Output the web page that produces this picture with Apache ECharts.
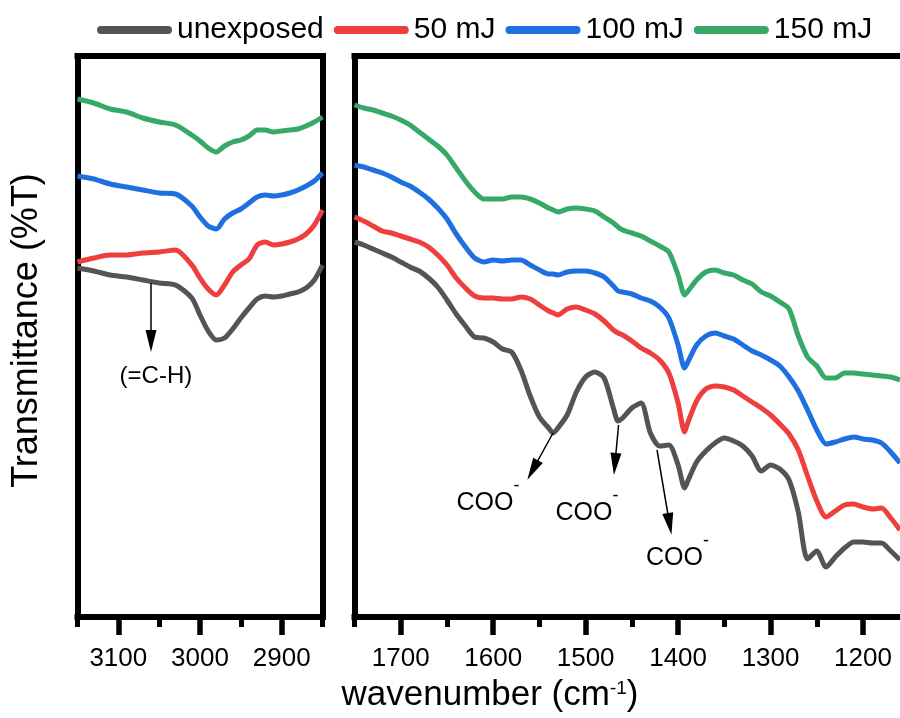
<!DOCTYPE html>
<html>
<head>
<meta charset="utf-8">
<title>FTIR spectra</title>
<script src="https://cdn.jsdelivr.net/npm/echarts@6/dist/echarts.min.js"></script>
<style>
  html, body { margin: 0; padding: 0; background: #fff; }
  #chart { width: 900px; height: 718px; }
</style>
</head>
<body>
<div id="chart"></div>
<script>
// left panel: 3150 - 2850 cm-1
const highWavenumber = [3150, 3130, 3110, 3090, 3070, 3050, 3030, 3010, 3000, 2990, 2980, 2970,
  2960, 2950, 2940, 2930, 2920, 2910, 2900, 2890, 2880, 2870, 2860, 2850]
const highUnexposed = [34.9, 34.6, 34.2, 34.0, 33.7, 33.4, 33.2, 31.9, 30.2, 28.6, 27.7, 27.9,
  28.8, 29.9, 30.9, 31.8, 32.1, 32.0, 32.1, 32.3, 32.5, 32.9, 33.7, 35.2]
const high50 = [35.5, 35.9, 36.2, 36.2, 36.4, 36.5, 36.7, 35.2, 33.9, 32.8, 32.2, 33.2,
  34.5, 35.2, 35.8, 37.2, 37.5, 37.2, 37.3, 37.5, 37.8, 38.3, 39.2, 40.7]
const high100 = [44.1, 43.8, 43.3, 43.0, 42.7, 42.4, 42.3, 41.1, 40.0, 39.1, 38.8, 39.8,
  40.4, 40.8, 41.4, 42.0, 42.2, 42.1, 42.2, 42.4, 42.7, 43.1, 43.6, 44.4]
const high150 = [51.8, 51.4, 50.8, 50.5, 49.9, 49.5, 49.2, 48.2, 47.6, 46.9, 46.5, 47.1,
  47.5, 47.7, 48.1, 48.7, 48.7, 48.5, 48.6, 48.7, 48.8, 49.1, 49.5, 50.0]

// right panel: 1750 - 1160 cm-1
const lowWavenumber = [1750, 1740, 1730, 1720, 1710, 1700, 1690, 1680, 1670, 1660, 1650, 1640,
  1630, 1620, 1610, 1600, 1590, 1580, 1570, 1560, 1550, 1540, 1535, 1530, 1520, 1510, 1500, 1490,
  1480, 1470, 1465, 1460, 1450, 1440, 1430, 1420, 1410, 1400, 1393, 1390, 1380, 1370, 1360, 1350,
  1340, 1330, 1320, 1310, 1300, 1290, 1280, 1270, 1260, 1250, 1240, 1230, 1220, 1210, 1200, 1190,
  1180, 1170, 1160]
const lowUnexposed = [37.5, 37.2, 36.8, 36.4, 36.0, 35.5, 35.0, 34.6, 33.9, 33.0, 31.7, 30.3,
  29.1, 28.0, 27.9, 27.5, 26.8, 26.5, 24.7, 22.1, 20.0, 18.9, 18.4, 18.9, 20.2, 22.5, 24.0, 24.5,
  23.9, 20.9, 19.6, 19.9, 20.9, 21.4, 18.4, 17.1, 17.2, 15.2, 12.9, 13.5, 15.5, 16.6, 17.4, 17.9,
  17.6, 17.1, 16.1, 14.6, 15.2, 14.8, 13.7, 10.5, 5.8, 6.6, 5.0, 6.0, 6.9, 7.5, 7.5, 7.4,
  7.4, 6.6, 5.7]
const low50 = [40.0, 39.6, 39.1, 38.6, 38.4, 38.1, 37.8, 37.5, 37.0, 36.2, 35.2, 33.9,
  32.9, 32.1, 31.9, 31.9, 31.8, 31.8, 32.0, 31.8, 31.2, 30.6, 30.4, 30.2, 30.8, 31.0, 30.7, 30.3,
  29.6, 28.7, 28.4, 28.2, 27.6, 26.9, 26.4, 25.7, 24.4, 21.4, 18.5, 19.3, 21.6, 22.8, 23.1, 23.0,
  22.7, 22.1, 21.5, 20.9, 20.2, 19.3, 18.3, 16.7, 14.1, 11.6, 10.0, 10.6, 11.2, 11.3, 11.0, 10.8,
  10.9, 9.9, 8.7]
const low100 = [45.2, 45.0, 44.7, 44.4, 44.0, 43.5, 43.1, 42.5, 41.8, 40.9, 39.8, 38.3,
  37.0, 35.9, 35.5, 35.7, 35.6, 35.7, 35.7, 35.2, 34.7, 34.3, 34.3, 34.2, 34.5, 34.6, 34.6, 34.4,
  34.0, 33.1, 32.6, 32.5, 32.3, 31.9, 31.6, 31.0, 29.9, 27.2, 24.9, 25.4, 27.2, 28.1, 28.4, 28.1,
  27.8, 27.2, 26.6, 26.2, 25.7, 25.1, 24.0, 22.6, 20.7, 18.7, 17.3, 17.5, 17.8, 18.0, 17.8, 17.7,
  17.4, 16.5, 15.4]
const low150 = [51.2, 50.9, 50.7, 50.4, 50.1, 49.7, 49.2, 48.5, 47.8, 47.1, 46.2, 44.9,
  43.6, 42.5, 41.8, 41.8, 41.8, 42.0, 42.0, 41.8, 41.4, 40.9, 40.7, 40.5, 40.8, 40.9, 40.8, 40.6,
  40.0, 39.4, 39.0, 38.7, 38.4, 38.1, 37.6, 37.1, 36.5, 34.2, 32.2, 32.5, 33.7, 34.5, 34.7, 34.4,
  34.2, 33.7, 33.3, 32.5, 32.1, 31.5, 30.8, 28.1, 26.0, 25.1, 23.9, 23.9, 24.4, 24.4, 24.3, 24.2,
  24.1, 24.0, 23.7]

const seriesNames = ['unexposed', '50 mJ', '100 mJ', '150 mJ']
const seriesColors = ['#545454', '#ee3e3e', '#1e6fe0', '#36a868']

const highMajorTicks = [3100, 3000, 2900]
const highMinorTicks = [3150, 3050, 2950, 2850]
const lowMajorTicks = [1700, 1600, 1500, 1400, 1300, 1200]
const lowMinorTicks = [1750, 1650, 1550, 1450, 1350, 1250]

// annotations (data coordinates): [fromX, fromY, toX, toY]
const highArrows = [[3060, 33.4, 3060, 27.6]]
const lowArrows = [
  [1535.3, 18.4, 1557.3, 14.7],
  [1464.4, 19.2, 1468.3, 15.3],
  [1422.8, 16.7, 1409.2, 9.3]
]
const lowLabels = [[1605.6, 11.4], [1498.5, 10.4], [1400.7, 5.9]]

const FONT = '"Liberation Sans", Arial, Helvetica, sans-serif'
const frameLine = { show: true, lineStyle: { color: '#000', width: 6, cap: 'square' } }

function minorAxis(gridIndex, min, max, ticks) {
  return {
    type: 'value', gridIndex, position: 'bottom', min, max, inverse: true,
    axisLine: frameLine,
    axisTick: { show: true, length: 10, customValues: ticks, lineStyle: { color: '#000', width: 5 } },
    axisLabel: { show: false },
    splitLine: { show: false }
  }
}
function majorAxis(gridIndex, min, max, ticks) {
  return {
    type: 'value', gridIndex, position: 'bottom', min, max, inverse: true,
    axisLine: { show: false },
    axisTick: { show: true, length: 18, customValues: ticks, lineStyle: { color: '#000', width: 5.5 } },
    axisLabel: {
      customValues: ticks, margin: 29, fontSize: 26, color: '#000', fontFamily: FONT,
      formatter: v => String(v)
    },
    splitLine: { show: false }
  }
}
function topAxis(gridIndex, min, max) {
  return {
    type: 'value', gridIndex, position: 'top', min, max, inverse: true,
    axisLine: frameLine, axisTick: { show: false }, axisLabel: { show: false }, splitLine: { show: false }
  }
}
function sideAxis(gridIndex, position, extra) {
  return Object.assign({
    type: 'value', gridIndex, position, min: 0, max: 56.1,
    axisLine: frameLine, axisTick: { show: false }, axisLabel: { show: false }, splitLine: { show: false }
  }, extra || {})
}

function spectrum(i, xs, ys, xAxisIndex, yAxisIndex) {
  return {
    type: 'line', name: seriesNames[i], xAxisIndex, yAxisIndex,
    data: xs.map((x, k) => [x, ys[k]]),
    symbol: 'none', showSymbol: false, smooth: 0.25,
    lineStyle: { color: seriesColors[i], width: 5 },
    itemStyle: { color: seriesColors[i] },
    z: 3
  }
}

function arrowMarks(list) {
  return {
    silent: true, animation: false, symbol: ['none', 'triangle'], symbolSize: 22,
    label: { show: false },
    lineStyle: { color: '#000', width: 1.5, type: 'solid' },
    emphasis: { disabled: true },
    data: list.map(a => [
      { coord: [a[0], a[1]], symbol: 'none' },
      { coord: [a[2], a[3]], symbol: 'triangle', symbolSize: [11, 22] }
    ])
  }
}

function textMarks(items, fontSize) {
  return {
    silent: true, animation: false, symbol: 'circle', symbolSize: 1,
    itemStyle: { color: 'rgba(0,0,0,0)' },
    label: {
      show: true, position: 'inside', color: '#000', fontFamily: FONT, fontSize,
      rich: { sup: { fontSize: 18, fontFamily: FONT, color: '#000', padding: [0, 0, 34, 0] } }
    },
    data: items
  }
}

const highGray = spectrum(0, highWavenumber, highUnexposed, 1, 0)
highGray.markLine = arrowMarks(highArrows)
highGray.markPoint = textMarks([{ coord: [3054, 24.1], label: { formatter: '(=C-H)' } }], 24)

const lowGray = spectrum(0, lowWavenumber, lowUnexposed, 4, 2)
lowGray.markLine = arrowMarks(lowArrows)
lowGray.markPoint = textMarks(lowLabels.map(p => ({ coord: p, label: { formatter: 'COO{sup|-}' } })), 25)

const chart = echarts.init(document.getElementById('chart'))
chart.setOption({
  backgroundColor: '#fff',
  animation: false,
  legend: {
    data: seriesNames,
    left: 97, top: 15, padding: 0,
    itemWidth: 75, itemHeight: 8, itemGap: 10,
    icon: 'path://M4,0 H71 A4,4 0 0 1 71,8 H4 A4,4 0 0 1 4,0 Z',
    textStyle: { fontSize: 30, color: '#000', fontFamily: FONT }
  },
  grid: [
    { left: 77.5, right: 577.5, top: 56, bottom: 101 },
    { left: 354.5, right: 0, top: 56, bottom: 101 }
  ],
  xAxis: [
    minorAxis(0, 2850, 3150, highMinorTicks),
    majorAxis(0, 2850, 3150, highMajorTicks),
    topAxis(0, 2850, 3150),
    minorAxis(1, 1160, 1750, lowMinorTicks),
    majorAxis(1, 1160, 1750, lowMajorTicks),
    topAxis(1, 1160, 1750)
  ],
  yAxis: [
    sideAxis(0, 'left', {
      name: 'Transmittance (%T)', nameLocation: 'middle', nameGap: 32,
      nameTextStyle: { fontSize: 36, color: '#000', fontFamily: FONT, padding: [0, 0, 0, 12] }
    }),
    sideAxis(0, 'right'),
    sideAxis(1, 'left')
  ],
  graphic: [{
    type: 'text', x: 490, y: 695, silent: true,
    style: {
      text: 'wavenumber (cm{sup|-1})',
      fontSize: 35, fontFamily: FONT, fill: '#000',
      align: 'center', verticalAlign: 'middle',
      rich: { sup: { fontSize: 19, fontFamily: FONT, fill: '#000', padding: [0, 0, 12, 0] } }
    }
  }],
  series: [
    highGray,
    spectrum(1, highWavenumber, high50, 1, 0),
    spectrum(2, highWavenumber, high100, 1, 0),
    spectrum(3, highWavenumber, high150, 1, 0),
    lowGray,
    spectrum(1, lowWavenumber, low50, 4, 2),
    spectrum(2, lowWavenumber, low100, 4, 2),
    spectrum(3, lowWavenumber, low150, 4, 2)
  ]
})
</script>
</body>
</html>
